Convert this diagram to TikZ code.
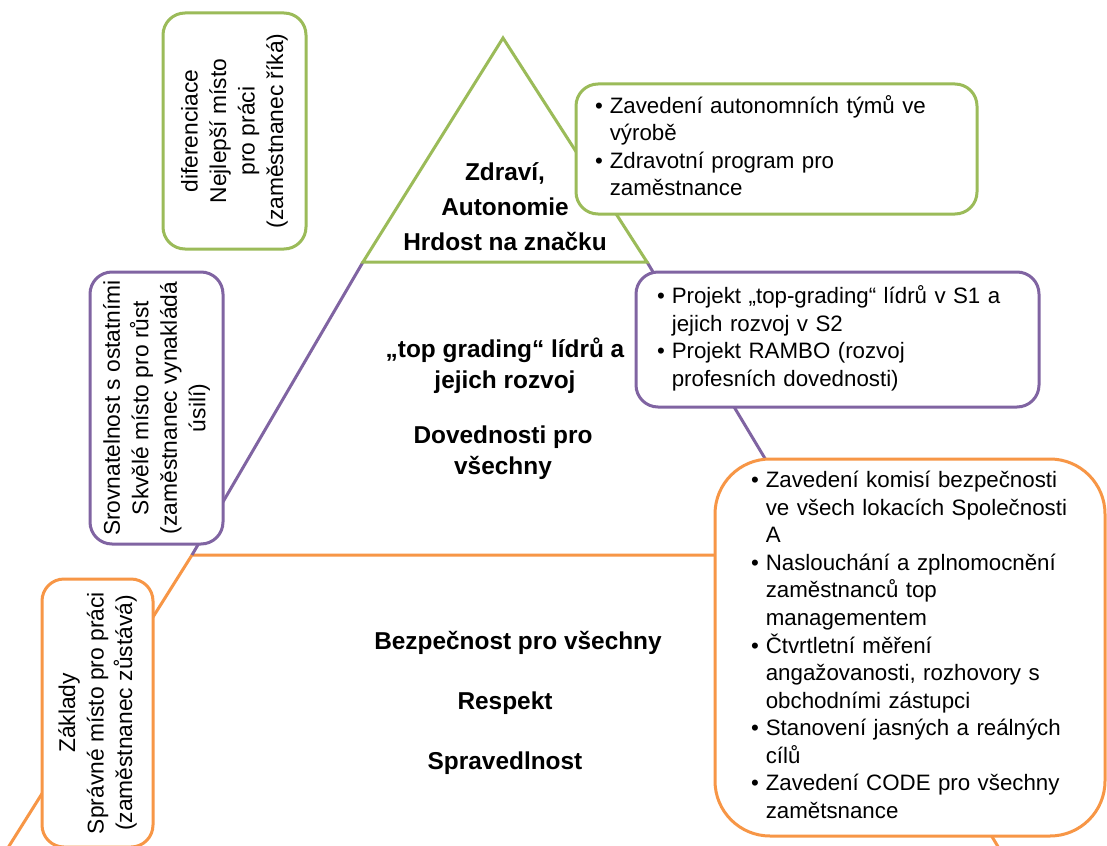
\documentclass[tikz,border=0pt]{standalone}
\usepackage{fontspec}
\setmainfont{Liberation Sans}
\definecolor{lvlgreen}{RGB}{155,187,89}
\definecolor{lvlpurple}{RGB}{128,100,162}
\definecolor{lvlorange}{RGB}{247,150,70}
\newcommand\bulletlist[1]{\begin{tabular}{@{}l@{\hspace{7pt}}l@{}}#1\end{tabular}}
\begin{document}
\begin{tikzpicture}[x=1pt,y=-1pt,
  edge/.style={line width=3pt, line join=miter},
  box/.style={draw, fill=white, line width=3pt, rounded corners=22pt, inner sep=0pt},
  bodytext/.style={font=\fontsize{22.3}{27.5}\selectfont},
  sidetext/.style={rotate=90, align=center, font=\fontsize{22.8}{28.5}\selectfont},
  level/.style={align=center, font=\fontsize{24.4}{31}\selectfont\bfseries}]
\clip (0,0) rectangle (1107,845);
\fill[white] (0,0) rectangle (1107,845);

% pyramid corners
\coordinate (apex) at (503,38);
\coordinate (tl) at (363,262);
\coordinate (tr) at (647,262);
\coordinate (ml) at (192,555);
\coordinate (mr) at (823,555);
\coordinate (bl) at (-6,870);
\coordinate (br) at (1012,870);

% pyramid levels
\draw[edge, lvlorange] (bl) -- (ml) -- (mr) -- (br);
\draw[edge, lvlpurple] (ml) -- (tl);
\draw[edge, lvlpurple] (mr) -- (tr);
\draw[edge, lvlgreen] (apex) -- (tr) -- (tl) -- cycle;

% level captions
\node[level, font=\fontsize{24.4}{35}\selectfont\bfseries] (top) at (505,207)
  {Zdraví,\\Autonomie\\Hrdost na značku};
\node[level] (mid1) at (505,366) {„top grading“ lídrů a\\jejich rozvoj};
\node[level] (mid2) at (503,453) {Dovednosti pro\\všechny};
\node[level] (base1) at (518,643) {Bezpečnost pro všechny};
\node[level] (base2) at (505,703) {Respekt};
\node[level] (base3) at (505,763) {Spravedlnost};

% side labels
\node[box, draw=lvlgreen, sidetext, minimum width=236, minimum height=143] (gside)
  at (234.5,131) {diferenciace\\Nejlepší místo\\pro práci\\(zaměstnanec říká)};
\node[box, draw=lvlpurple, sidetext, minimum width=272, minimum height=133] (pside)
  at (156.5,408) {Srovnatelnost s ostatními\\Skvělé místo pro růst\\(zaměstnanec vynakládá\\úsilí)};
\node[box, draw=lvlorange, sidetext, minimum width=268, minimum height=111] (oside)
  at (97.5,713) {Základy\\Správné místo pro práci\\(zaměstnanec zůstává)};

% measures per level
\node[box, draw=lvlgreen, bodytext, minimum width=401, minimum height=130,
  text width=363, align=left] (gact) at (776.5,149)
  {\bulletlist{\textbullet & Zavedení autonomních týmů ve\\
    & výrobě\\
    \textbullet & Zdravotní program pro\\
    & zaměstnance}};
\node[box, draw=lvlpurple, bodytext, minimum width=403, minimum height=135,
  text width=361, align=left] (pact) at (837.5,339.5)
  {\bulletlist{\textbullet & Projekt „top-grading“ lídrů v S1 a\\
    & jejich rozvoj v S2\\
    \textbullet & Projekt RAMBO (rozvoj\\
    & profesních dovednosti)}};
\node[box, draw=lvlorange, bodytext, rounded corners=55pt, minimum width=390,
  minimum height=377, text width=318, align=left] (oact) at (910,647.5)
  {\bulletlist{\textbullet & Zavedení komisí bezpečnosti\\
    & ve všech lokacích Společnosti\\
    & A\\
    \textbullet & Naslouchání a zplnomocnění\\
    & zaměstnanců top\\
    & managementem\\
    \textbullet & Čtvrtletní měření\\
    & angažovanosti, rozhovory s\\
    & obchodními zástupci\\
    \textbullet & Stanovení jasných a reálných\\
    & cílů\\
    \textbullet & Zavedení CODE pro všechny\\
    & zamětsnance}};
\end{tikzpicture}
\end{document}
